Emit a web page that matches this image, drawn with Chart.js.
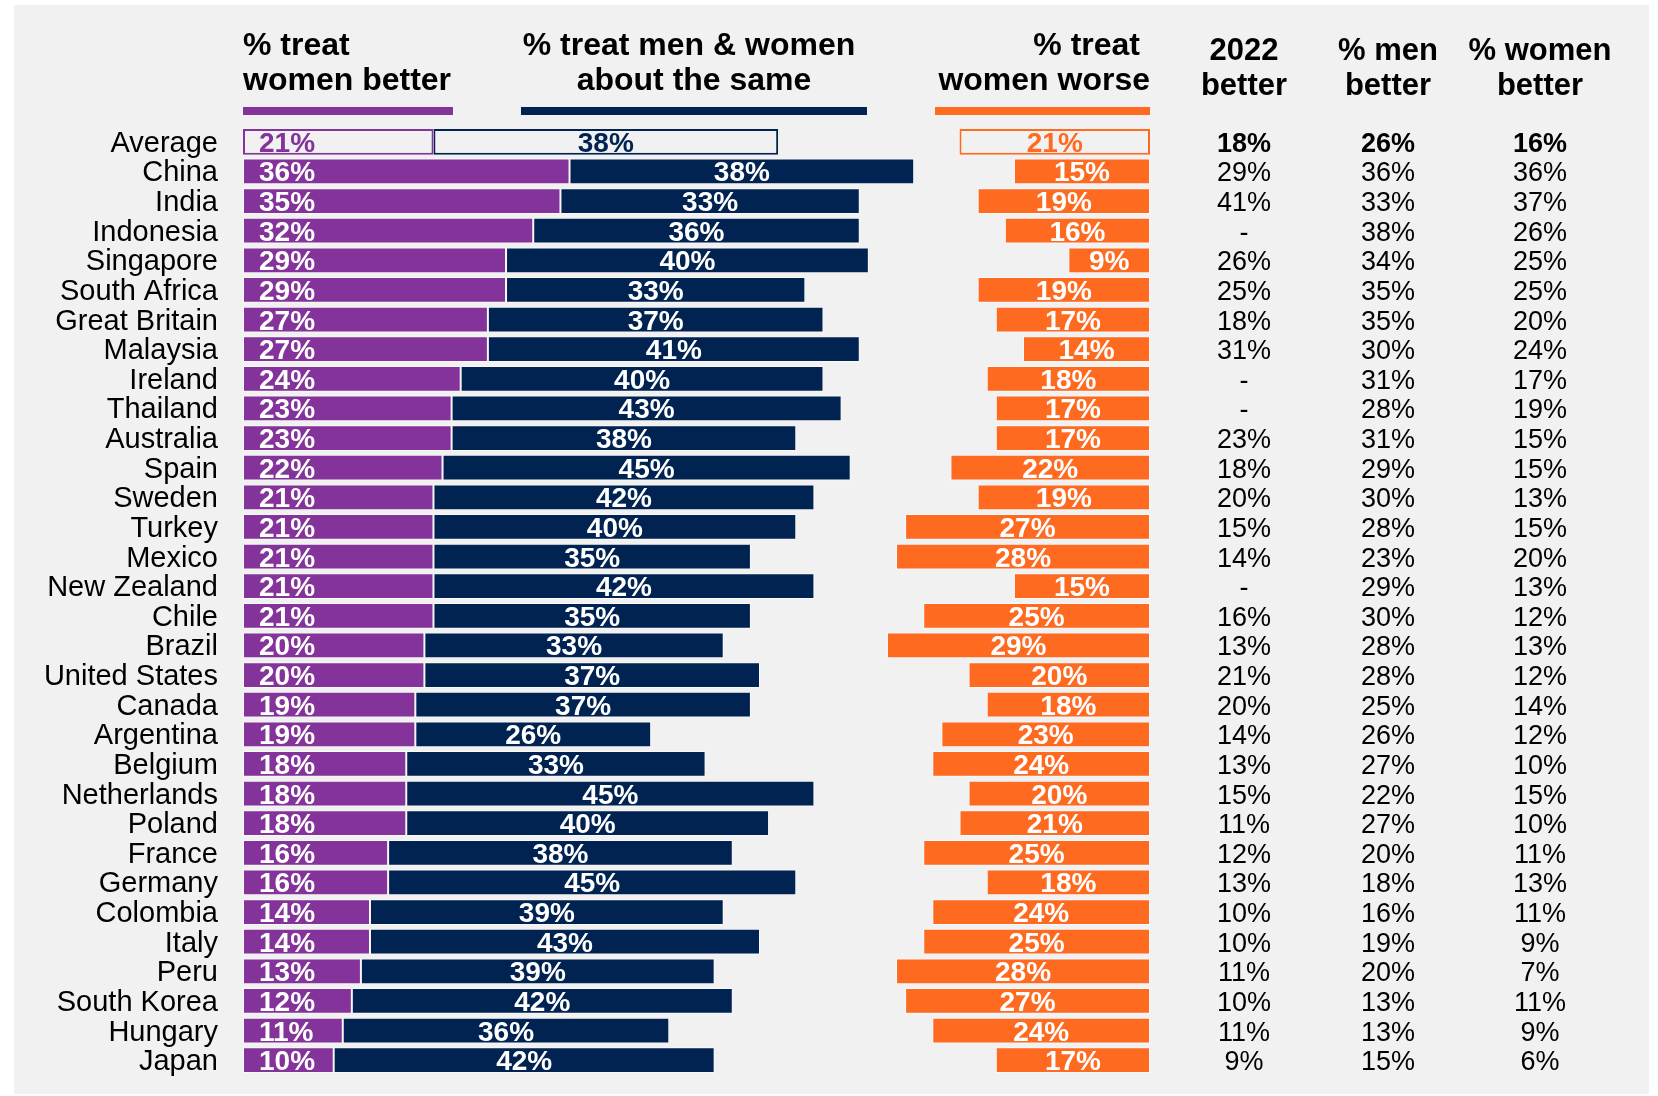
<!DOCTYPE html>
<html>
<head>
<meta charset="utf-8">
<script src="https://cdn.jsdelivr.net/npm/chart.js@4.4.0/dist/chart.umd.min.js"></script>
<style>
  body { margin: 0; background: #fff; }
  #wrap { position: relative; width: 1658px; height: 1096px; }
</style>
</head>
<body>
<div id="wrap"><canvas id="chart" width="1658" height="1096"></canvas></div>
<script>
const countries = ["Average", "China", "India", "Indonesia", "Singapore", "South Africa", "Great Britain",
    "Malaysia", "Ireland", "Thailand", "Australia", "Spain", "Sweden", "Turkey", "Mexico", "New Zealand",
    "Chile", "Brazil", "United States", "Canada", "Argentina", "Belgium", "Netherlands", "Poland",
    "France", "Germany", "Colombia", "Italy", "Peru", "South Korea", "Hungary", "Japan"];
const womenBetter = [21, 36, 35, 32, 29, 29, 27, 27, 24, 23, 23, 22, 21, 21, 21, 21, 21, 20, 20, 19, 19, 18, 18, 18, 16, 16, 14, 14, 13, 12, 11, 10];
const aboutSame = [38, 38, 33, 36, 40, 33, 37, 41, 40, 43, 38, 45, 42, 40, 35, 42, 35, 33, 37, 37, 26, 33, 45, 40, 38, 45, 39, 43, 39, 42, 36, 42];
const womenWorse = [21, 15, 19, 16, 9, 19, 17, 14, 18, 17, 17, 22, 19, 27, 28, 15, 25, 29, 20, 18, 23, 24, 20, 21, 25, 18, 24, 25, 28, 27, 24, 17];
const better2022 = ["18%", "29%", "41%", "-", "26%", "25%", "18%", "31%", "-", "-", "23%", "18%", "20%", "15%", "14%", "-",
    "16%", "13%", "21%", "20%", "14%", "13%", "15%", "11%", "12%", "13%", "10%", "10%", "11%", "10%", "11%", "9%"];
const menBetter = ["26%", "36%", "33%", "38%", "34%", "35%", "35%", "30%", "31%", "28%", "31%", "29%", "30%", "28%", "23%", "29%",
    "30%", "28%", "28%", "25%", "26%", "27%", "22%", "27%", "20%", "18%", "16%", "19%", "20%", "13%", "13%", "15%"];
const womenBetterCol = ["16%", "36%", "37%", "26%", "25%", "25%", "20%", "24%", "17%", "19%", "15%", "15%", "13%", "15%", "20%", "13%",
    "12%", "13%", "12%", "14%", "12%", "10%", "15%", "10%", "11%", "13%", "11%", "9%", "7%", "11%", "9%", "6%"];

const PURPLE = "#833399";
const NAVY = "#002352";
const ORANGE = "#ff6a21";
const BG = "#f1f1f1";
const FONT = '"Liberation Sans", Arial, sans-serif';

// first row (Average) is drawn as an outlined box
function fills(color) {
    return countries.map((c, i) => i === 0 ? BG : color);
}
function borders(color) {
    return countries.map((c, i) => i === 0 ? color : "rgba(255,255,255,0.55)");
}
const borderWidths = countries.map((c, i) => i === 0 ? 2 : 1);

const tableCols = [
    { head: ["2022", "better"], values: better2022, x: 1244 },
    { head: ["% men", "better"], values: menBetter, x: 1388 },
    { head: ["% women", "better"], values: womenBetterCol, x: 1540 }
];

const overlay = {
    id: "overlay",
    beforeDraw(chart) {
        const ctx = chart.ctx;
        ctx.save();
        ctx.fillStyle = BG;
        ctx.fillRect(14, 5, 1635, 1089);
        ctx.restore();
    },
    afterDatasetsDraw(chart) {
        const ctx = chart.ctx;
        const xs = chart.scales.x;
        const ys = chart.scales.y;
        ctx.save();

        // bar labels
        const metas = [0, 1, 2].map(i => chart.getDatasetMeta(i));
        const colors = [PURPLE, NAVY, ORANGE];
        metas.forEach((meta, d) => {
            meta.data.forEach((bar, i) => {
                const vals = [womenBetter, aboutSame, womenWorse][d];
                ctx.font = "bold 28px " + FONT;
                ctx.fillStyle = i === 0 ? colors[d] : "#fff";
                const y = bar.y + 10;
                if (d === 0) {
                    ctx.textAlign = "left";
                    ctx.fillText(vals[i] + "%", Math.min(bar.x, bar.base) + 16, y);
                } else {
                    ctx.textAlign = "center";
                    ctx.fillText(vals[i] + "%", (bar.x + bar.base) / 2, y);
                }
            });
        });

        // country names
        ctx.fillStyle = "#000";
        ctx.textAlign = "right";
        ctx.font = "29px " + FONT;
        countries.forEach((c, i) => {
            ctx.fillText(c, 218, ys.getPixelForValue(i) + 10);
        });

        // right hand table
        tableCols.forEach(col => {
            ctx.textAlign = "center";
            ctx.font = "bold 31px " + FONT;
            ctx.fillText(col.head[0], col.x, 60);
            ctx.fillText(col.head[1], col.x, 95);
            col.values.forEach((v, i) => {
                ctx.font = (i === 0 ? "bold " : "") + "27px " + FONT;
                ctx.fillText(v, col.x, ys.getPixelForValue(i) + 10);
            });
        });

        // group headers + underlines
        ctx.font = "bold 32px " + FONT;
        ctx.textAlign = "left";
        ctx.fillText("% treat", xs.getPixelForValue(0), 55);
        ctx.fillText("women better", xs.getPixelForValue(0), 90);
        ctx.textAlign = "center";
        ctx.fillText("% treat men & women", 689, 55);
        ctx.fillText("about the same", 694, 90);
        ctx.textAlign = "right";
        ctx.fillText("% treat", 1140, 55);
        ctx.fillText("women worse", xs.getPixelForValue(100), 90);

        ctx.fillStyle = PURPLE;
        ctx.fillRect(xs.getPixelForValue(0), 107, 210, 8);
        ctx.fillStyle = NAVY;
        ctx.fillRect(521, 107, 346, 8);
        ctx.fillStyle = ORANGE;
        ctx.fillRect(935, 107, xs.getPixelForValue(100) - 935, 8);

        ctx.restore();
    }
};

const ctx = document.getElementById("chart").getContext("2d");
const chart = new Chart(ctx, {
    type: "bar",
    data: {
        labels: countries,
        datasets: [
            {
                label: "% treat women better",
                data: countries.map((c, i) => [0, womenBetter[i]]),
                backgroundColor: fills(PURPLE),
                borderColor: borders(PURPLE),
                borderWidth: borderWidths
            },
            {
                label: "% treat men & women about the same",
                data: countries.map((c, i) => [womenBetter[i], womenBetter[i] + aboutSame[i]]),
                backgroundColor: fills(NAVY),
                borderColor: borders(NAVY),
                borderWidth: borderWidths
            },
            {
                label: "% treat women worse",
                data: countries.map((c, i) => [100 - womenWorse[i], 100]),
                backgroundColor: fills(ORANGE),
                borderColor: borders(ORANGE),
                borderWidth: borderWidths
            }
        ]
    },
    options: {
        indexAxis: "y",
        responsive: false,
        animation: false,
        grouped: false,
        categoryPercentage: 1,
        barPercentage: 0.87,
        borderSkipped: false,
        layout: { padding: { left: 243, right: 508, top: 127, bottom: 21 } },
        scales: {
            x: { display: false, min: 0, max: 100 },
            y: { display: false }
        },
        plugins: {
            legend: { display: false },
            tooltip: { enabled: false }
        }
    },
    plugins: [overlay]
});
</script>
</body>
</html>
